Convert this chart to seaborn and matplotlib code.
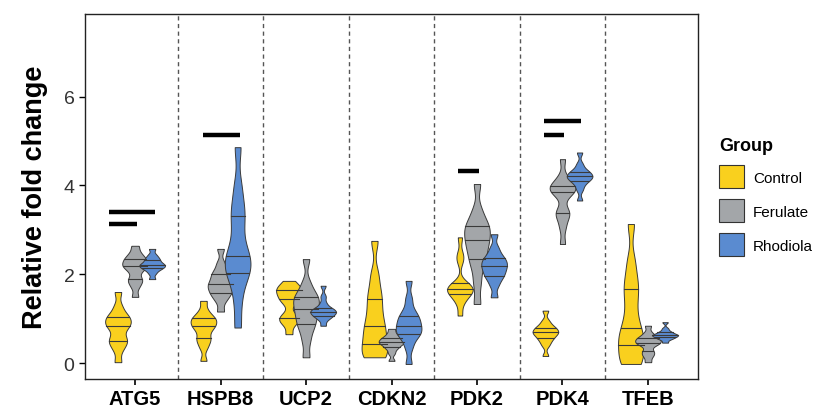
import numpy as np
import pandas as pd
import matplotlib
matplotlib.use("Agg")
import matplotlib.pyplot as plt
from matplotlib.patches import Patch
from matplotlib.collections import LineCollection
import seaborn as sns

# genes on the x axis and the three treatment groups
genes = ["ATG5", "HSPB8", "UCP2", "CDKN2", "PDK2", "PDK4", "TFEB"]
groups = ["Control", "Ferulate", "Rhodiola"]
group_colors = ["#F9D01E", "#A3A6A9", "#5A8BD0"]

# estimated replicate values (fold change) per gene, one list per group
control_vals = [
    [0.02, 0.30, 0.45, 0.50, 0.60, 0.78, 0.84, 0.90, 0.97, 1.04, 1.10, 1.28, 1.60],
    [0.05, 0.35, 0.50, 0.56, 0.70, 0.80, 0.84, 0.90, 0.96, 1.01, 1.05, 1.18, 1.40],
    [0.65, 0.88, 0.97, 1.01, 1.10, 1.35, 1.44, 1.50, 1.58, 1.64, 1.68, 1.74, 1.85],
    [0.13, 0.16, 0.25, 0.42, 0.55, 0.70, 0.83, 1.00, 1.22, 1.44, 1.65, 2.00, 2.75],
    [1.07, 1.35, 1.48, 1.55, 1.60, 1.64, 1.67, 1.71, 1.75, 1.80, 2.30, 2.45, 2.83],
    [0.16, 0.40, 0.50, 0.56, 0.62, 0.66, 0.69, 0.72, 0.76, 0.80, 0.85, 0.95, 1.18],
    [-0.02, 0.02, 0.15, 0.41, 0.50, 0.62, 0.80, 1.05, 1.40, 1.67, 1.90, 2.30, 3.13],
]
ferulate_vals = [
    [1.49, 1.72, 1.85, 1.89, 2.05, 2.15, 2.18, 2.22, 2.28, 2.34, 2.38, 2.48, 2.64],
    [1.16, 1.40, 1.52, 1.58, 1.66, 1.72, 1.77, 1.83, 1.92, 2.00, 2.08, 2.25, 2.57],
    [0.13, 0.50, 0.75, 0.88, 1.00, 1.12, 1.22, 1.32, 1.42, 1.49, 1.58, 1.80, 2.34],
    [0.05, 0.22, 0.32, 0.37, 0.42, 0.45, 0.47, 0.50, 0.53, 0.56, 0.60, 0.67, 0.77],
    [1.33, 1.80, 2.15, 2.34, 2.50, 2.65, 2.76, 2.88, 3.00, 3.09, 3.20, 3.45, 4.03],
    [2.68, 3.05, 3.28, 3.37, 3.45, 3.78, 3.86, 3.90, 3.95, 3.99, 4.05, 4.20, 4.59],
    [0.02, 0.15, 0.22, 0.28, 0.40, 0.44, 0.46, 0.50, 0.53, 0.56, 0.60, 0.68, 0.84],
]
rhodiola_vals = [
    [1.89, 2.02, 2.10, 2.13, 2.17, 2.19, 2.21, 2.24, 2.28, 2.33, 2.37, 2.44, 2.57],
    [0.80, 1.40, 1.85, 2.03, 2.15, 2.30, 2.42, 2.60, 3.00, 3.32, 3.55, 4.00, 4.86],
    [0.84, 0.98, 1.04, 1.07, 1.11, 1.14, 1.16, 1.18, 1.22, 1.25, 1.35, 1.50, 1.74],
    [-0.02, 0.35, 0.55, 0.65, 0.70, 0.76, 0.84, 0.92, 1.00, 1.07, 1.20, 1.45, 1.85],
    [1.48, 1.75, 1.90, 1.97, 2.05, 2.12, 2.18, 2.24, 2.30, 2.36, 2.45, 2.60, 2.90],
    [3.66, 3.90, 4.02, 4.09, 4.14, 4.17, 4.20, 4.23, 4.27, 4.31, 4.36, 4.48, 4.74],
    [0.46, 0.53, 0.56, 0.58, 0.60, 0.62, 0.63, 0.64, 0.66, 0.69, 0.72, 0.78, 0.92],
]

# significance bars: gene index, height, start/end relative to gene centre
sig_gene = [0, 0, 1, 4, 5, 5]
sig_y = [3.41, 3.14, 5.14, 4.33, 5.44, 5.14]
sig_x0 = [-0.31, -0.31, -0.21, -0.22, -0.22, -0.22]
sig_x1 = [0.23, 0.02, 0.23, 0.02, 0.22, 0.02]

group_offset = [-0.2, 0.0, 0.2]

plt.rcParams["font.family"] = ["Liberation Sans", "DejaVu Sans"]

rows = []
for gi, gene in enumerate(genes):
    for k, vals in enumerate([control_vals, ferulate_vals, rhodiola_vals]):
        for v in vals[gi]:
            rows.append({"gene": gene, "group": groups[k],
                         "pos": gi + group_offset[k], "value": v})
df = pd.DataFrame(rows)

fig = plt.figure(figsize=(8.2, 4.14), dpi=100)
ax = fig.add_axes([0.1037, 0.082, 0.7475, 0.882])

sns.violinplot(data=df, x="pos", y="value", hue="group", hue_order=groups,
               palette=group_colors, saturation=1, native_scale=True, dodge=False,
               width=1.5, density_norm="width", cut=0, bw_adjust=0.45,
               gridsize=200, inner="quart", linecolor="#3a3a3a", linewidth=0.7,
               legend=False, ax=ax)

# quartile lines solid instead of dashed
for line in ax.lines:
    line.set_linestyle("-")
    line.set_linewidth(0.8)
for coll in ax.collections:
    if isinstance(coll, LineCollection):
        coll.set_linestyle("solid")

# separators between genes
for i in range(len(genes) - 1):
    ax.axvline(i + 0.5, color="#555555", linestyle=(0, (3, 2.5)), linewidth=1.0, zorder=0)

# significance bars
for g, y, x0, x1 in zip(sig_gene, sig_y, sig_x0, sig_x1):
    ax.hlines(y, g + x0, g + x1, color="black", linewidth=3.2, zorder=3)

ax.set_xlim(-0.585, len(genes) - 1 + 0.585)
ax.set_ylim(-0.36, 7.86)
ax.set_xticks(range(len(genes)))
ax.set_xticklabels(genes, fontsize=14.5, fontweight="bold")
ax.set_yticks([0, 2, 4, 6])
ax.tick_params(axis="y", labelsize=14, labelcolor="#333333", length=4, width=1)
ax.tick_params(axis="x", length=4, width=1.2, pad=3)
ax.set_xlabel("")
ax.set_ylabel("Relative fold change", fontsize=19.5, fontweight="bold", labelpad=11)
for sp in ax.spines.values():
    sp.set_color("#222222")
    sp.set_linewidth(1.0)

handles = [Patch(facecolor=c, edgecolor="#333333", linewidth=0.8) for c in group_colors]
leg = ax.legend(handles, groups, title="Group", loc="center left",
                bbox_to_anchor=(1.025, 0.5), borderaxespad=0, frameon=False,
                fontsize=11, handlelength=1.6, handleheight=1.9,
                handletextpad=0.6, labelspacing=0.75,
                title_fontproperties={"weight": "bold", "size": 13})
leg._legend_box.align = "left"

fig.savefig("out.png", dpi=100)
